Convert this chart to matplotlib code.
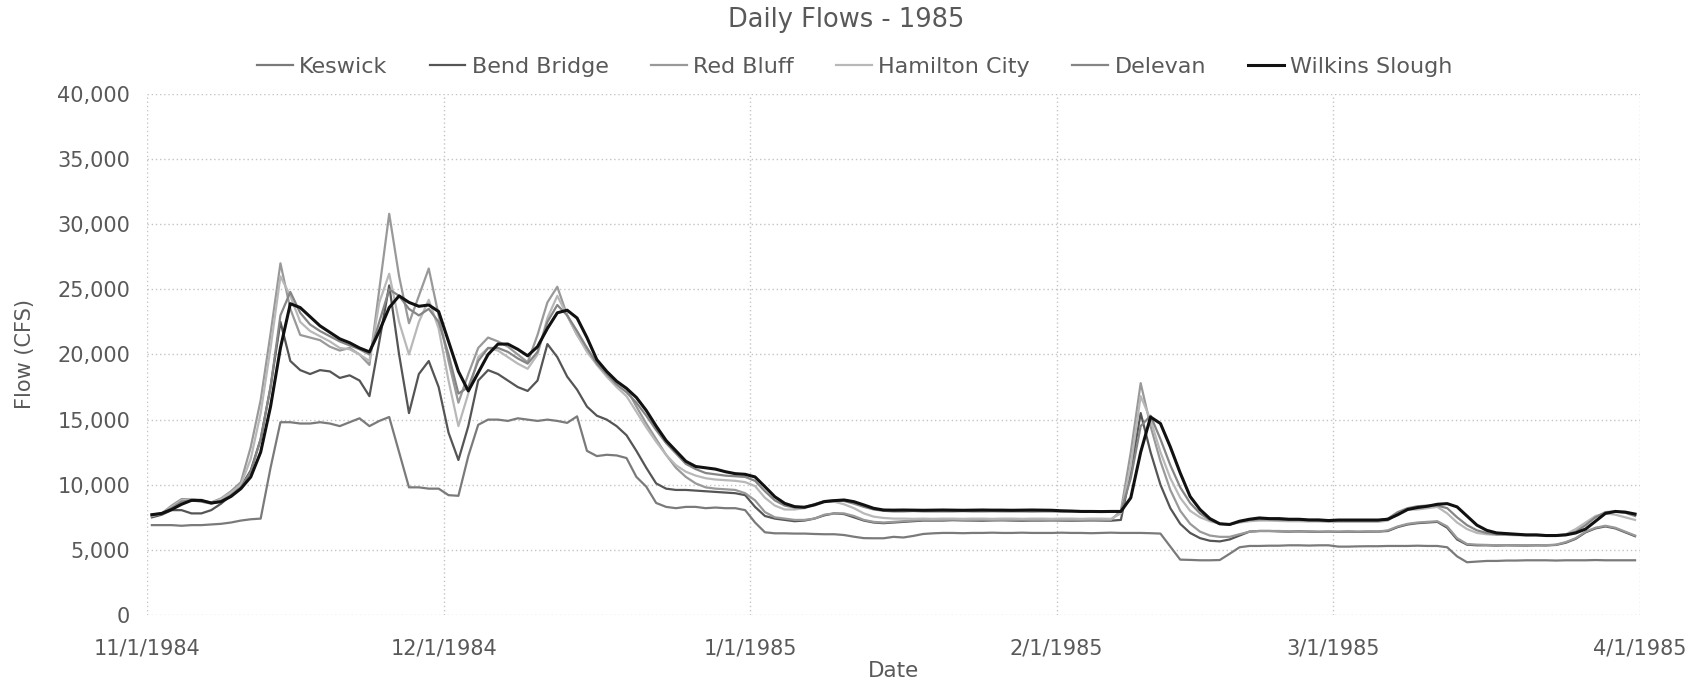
import matplotlib
matplotlib.use("Agg")
import matplotlib.pyplot as plt
import matplotlib.dates as mdates
from matplotlib.ticker import FuncFormatter, MultipleLocator
import pandas as pd

# daily mean flows, 11/1/1984 - 3/31/1985 (cfs)
keswick = [
    6900, 6900, 6900, 6850, 6900, 6900, 6950, 7000, 7100, 7250,
    7350, 7400, 11300, 14800, 14800, 14700, 14700, 14800, 14700, 14500,
    14800, 15100, 14500, 14900, 15200, 12500, 9800, 9800, 9700, 9700,
    9200, 9150, 12200, 14600, 15000, 15000, 14900, 15100, 15000, 14900,
    15000, 14900, 14750, 15250, 12600, 12200, 12300, 12250, 12050, 10600,
    9850, 8600, 8300, 8200, 8300, 8300, 8200, 8250, 8200, 8200,
    8050, 7100, 6350, 6270, 6270, 6250, 6250, 6220, 6200, 6200,
    6140, 6010, 5900, 5890, 5890, 6000, 5950, 6070, 6220, 6270,
    6300, 6300, 6280, 6300, 6300, 6320, 6300, 6300, 6320, 6300,
    6300, 6300, 6320, 6300, 6300, 6280, 6300, 6320, 6300, 6300,
    6300, 6280, 6250, 5250, 4250, 4230, 4200, 4200, 4220, 4700,
    5200, 5300, 5300, 5320, 5320, 5350, 5350, 5330, 5350, 5350,
    5250, 5250, 5270, 5280, 5280, 5300, 5300, 5300, 5320, 5300,
    5300, 5200, 4500, 4050, 4100, 4150, 4150, 4180, 4180, 4200,
    4200, 4200, 4180, 4200, 4200, 4200, 4220, 4200, 4200, 4200, 4200,
]
bend_bridge = [
    7500, 7700, 8050, 8050, 7800, 7800, 8050, 8550, 9200, 9850,
    11100, 13500, 17500, 22500, 19500, 18800, 18500, 18800, 18700, 18200,
    18400, 18000, 16800, 21000, 25300, 20000, 15500, 18500, 19500, 17500,
    14000, 11900, 14500, 18000, 18800, 18500, 18000, 17500, 17200, 18000,
    20800, 19800, 18300, 17300, 16000, 15300, 15000, 14500, 13800, 12600,
    11300, 10100, 9700, 9600, 9600, 9550, 9500, 9450, 9400, 9350,
    9200, 8300, 7600, 7400, 7300, 7200, 7250, 7400, 7650, 7800,
    7750, 7500, 7250, 7100, 7050, 7100, 7150, 7200, 7250, 7250,
    7250, 7280, 7260, 7250, 7240, 7260, 7270, 7250, 7240, 7250,
    7250, 7260, 7250, 7240, 7250, 7260, 7250, 7240, 7300, 11000,
    15500, 12500, 10000, 8200, 7000, 6300, 5900, 5700, 5650, 5800,
    6100, 6400, 6450, 6450, 6420, 6400, 6420, 6400, 6380, 6400,
    6380, 6400, 6380, 6400, 6400, 6450, 6750, 6950, 7050, 7100,
    7150, 6700, 5800, 5400, 5350, 5350, 5330, 5350, 5340, 5330,
    5350, 5340, 5380, 5550, 5850, 6350, 6650, 6800, 6650, 6350, 6050,
]
red_bluff = [
    7600, 7800, 8400, 8900, 8900, 8750, 8650, 8950, 9500, 10200,
    12900, 16500, 21600, 27000, 23500, 21500, 21300, 21100, 20600, 20300,
    20500, 20000, 19200, 25000, 30800, 26000, 22400, 24500, 26600, 23000,
    19500, 16300, 18500, 20500, 21300, 21000, 20600, 20000, 19400, 21500,
    24000, 25200, 23000, 21500, 20500, 19300, 18500, 17900, 17400, 16000,
    14700, 13500, 12300, 11300, 10600, 10100, 9800, 9700, 9650, 9600,
    9350, 8800, 7900, 7500, 7400, 7300, 7300, 7400, 7700, 7800,
    7800, 7600, 7300, 7150, 7100, 7150, 7200, 7250, 7300, 7300,
    7300, 7320, 7300, 7300, 7310, 7300, 7290, 7300, 7310, 7300,
    7300, 7300, 7300, 7290, 7300, 7310, 7300, 7300, 8000, 12500,
    17800, 14500, 11800, 9600, 8000, 7000, 6400, 6100, 6000, 6000,
    6200, 6400, 6450, 6450, 6450, 6420, 6400, 6420, 6400, 6400,
    6400, 6420, 6400, 6420, 6400, 6500, 6800, 7000, 7100, 7150,
    7200, 6800, 5900, 5450, 5400, 5380, 5350, 5360, 5350, 5350,
    5350, 5360, 5400, 5600, 5900, 6400, 6700, 6850, 6700, 6400, 6100,
]
hamilton_city = [
    7600, 7800, 8300, 8800, 8900, 8800, 8600, 8900, 9400, 10000,
    12000, 15500, 20500, 26000, 24500, 22500, 21800, 21400, 21000, 20500,
    20400, 20000, 19500, 24000, 26200, 22500, 20000, 22500, 24200, 22000,
    18000, 14500, 17000, 19800, 20500, 20300, 19800, 19300, 18900, 20000,
    22800, 24500, 23000, 21500, 20200, 19200, 18300, 17500, 16800, 15600,
    14400, 13300, 12300, 11500, 11000, 10700, 10500, 10400, 10350, 10300,
    10200, 9900, 9000, 8400, 8100, 8100, 8200, 8500, 8700, 8700,
    8500, 8200, 7800, 7550, 7450, 7400, 7400, 7380, 7400, 7380,
    7400, 7400, 7380, 7400, 7400, 7380, 7400, 7400, 7380, 7400,
    7400, 7380, 7400, 7400, 7380, 7400, 7400, 7380, 7800, 11500,
    16800, 15000, 12500, 10500, 9000, 8000, 7500, 7200, 7000, 6950,
    7100, 7200, 7250, 7250, 7220, 7200, 7200, 7180, 7180, 7150,
    7150, 7150, 7150, 7150, 7150, 7250, 7800, 8100, 8100, 8200,
    8300, 7800, 7100, 6600, 6300, 6200, 6150, 6150, 6120, 6100,
    6100, 6100, 6100, 6200, 6600, 7100, 7600, 7800, 7700, 7500, 7300,
]
delevan = [
    7700, 7800, 8200, 8700, 8800, 8700, 8550, 8750, 9200, 9800,
    11000, 13500, 17500, 23000, 24800, 23200, 22300, 21800, 21400, 21000,
    20700, 20400, 20000, 22500, 25000, 24500, 23500, 23000, 23500, 22500,
    20000, 17000, 17500, 19500, 20500, 20500, 20200, 19700, 19300, 20200,
    22500, 23800, 23000, 21800, 20500, 19300, 18500, 17700, 17100, 16300,
    15300, 14200, 13200, 12400, 11600, 11200, 10900, 10800, 10700, 10650,
    10600, 10300, 9500, 8800, 8400, 8250, 8300, 8500, 8750, 8800,
    8750, 8550, 8300, 8100, 8000, 7950, 7950, 7980, 7950, 7950,
    7950, 7950, 7970, 7950, 7950, 7960, 7950, 7950, 7950, 7940,
    7950, 7950, 7940, 7950, 7950, 7950, 7940, 7950, 7950, 10500,
    14500, 15300, 13500, 11500, 9800, 8600, 7800, 7300, 7000, 6950,
    7150, 7300, 7350, 7350, 7320, 7300, 7300, 7280, 7250, 7250,
    7250, 7250, 7250, 7250, 7250, 7400, 7900, 8200, 8350, 8400,
    8400, 8200, 7500, 6900, 6500, 6300, 6200, 6180, 6150, 6150,
    6150, 6130, 6130, 6150, 6400, 6900, 7500, 7900, 7950, 7850, 7600,
]
wilkins_slough = [
    7700, 7800, 8100, 8500, 8800, 8800, 8600, 8700, 9100, 9700,
    10600, 12500, 16000, 20500, 23900, 23600, 22900, 22200, 21700, 21200,
    20900, 20500, 20200, 21800, 23600, 24500, 24000, 23700, 23800, 23300,
    21000, 18700, 17200, 18600, 20000, 20800, 20800, 20400, 19900, 20600,
    22000, 23200, 23400, 22800, 21300, 19600, 18700, 17950, 17400, 16700,
    15700, 14500, 13400, 12600, 11800, 11400, 11300, 11200, 11000, 10850,
    10800, 10600, 9850, 9080, 8570, 8320, 8270, 8450, 8700, 8780,
    8830, 8700, 8450, 8190, 8060, 8050, 8060, 8050, 8040, 8050,
    8060, 8050, 8040, 8050, 8060, 8050, 8050, 8040, 8050, 8060,
    8050, 8040, 8000, 7980, 7950, 7950, 7940, 7950, 7950, 9000,
    12500, 15200, 14700, 12900, 10900, 9100, 8100, 7400, 7000, 6950,
    7200, 7350, 7450, 7400, 7400, 7350, 7350, 7300, 7300, 7250,
    7290, 7290, 7290, 7290, 7290, 7350, 7700, 8100, 8250, 8350,
    8500, 8550, 8300, 7600, 6900, 6500, 6300, 6250, 6200, 6150,
    6150, 6100, 6100, 6150, 6300, 6600, 7200, 7800, 7950, 7900, 7750,
]

stations = ["Keswick", "Bend Bridge", "Red Bluff", "Hamilton City", "Delevan", "Wilkins Slough"]
flows = [keswick, bend_bridge, red_bluff, hamilton_city, delevan, wilkins_slough]
colors = ["#7a7a7a", "#555555", "#999999", "#b8b8b8", "#858585", "#111111"]
widths = [1.6, 1.6, 1.6, 1.6, 1.6, 2.2]

# daily means plotted at midday
dates = pd.date_range("1984-11-01", periods=len(keswick), freq="D") + pd.Timedelta(hours=12)

plt.rcParams["font.family"] = ["DejaVu Sans"]
txt = "#595959"

fig = plt.figure(figsize=(16.93, 6.90), dpi=100)
ax = fig.add_axes([0.0868, 0.1087, 0.8819, 0.7551])

for name, q, c, lw in zip(stations, flows, colors, widths):
    ax.plot(dates, q, color=c, lw=lw, label=name)

ax.set_xlim(pd.Timestamp("1984-11-01"), pd.Timestamp("1985-04-01"))
ax.set_ylim(0, 40000)
ax.yaxis.set_major_locator(MultipleLocator(5000))
ax.yaxis.set_major_formatter(FuncFormatter(lambda v, p: f"{v:,.0f}"))
ax.xaxis.set_major_locator(mdates.MonthLocator())
ax.xaxis.set_major_formatter(FuncFormatter(
    lambda v, p: f"{mdates.num2date(v).month}/{mdates.num2date(v).day}/{mdates.num2date(v).year}"))

ax.grid(True, color="#c4c4c4", linestyle=(0, (1, 2)), linewidth=1.0)
ax.set_axisbelow(True)
for s in ax.spines.values():
    s.set_visible(False)
ax.tick_params(length=0, colors=txt, labelsize=15)
ax.tick_params(axis="x", pad=17)
ax.tick_params(axis="y", pad=12)

ax.set_xlabel("Date", color=txt, fontsize=15.5, labelpad=2)
ax.set_ylabel("Flow (CFS)", color=txt, fontsize=15, labelpad=16)

fig.suptitle("Daily Flows - 1985", color=txt, fontsize=18.5, y=0.99)
leg = fig.legend(loc="center", bbox_to_anchor=(0.505, 0.903), ncol=6, frameon=False,
                 fontsize=16, handlelength=1.6, handletextpad=0.3, columnspacing=1.9)
for t in leg.get_texts():
    t.set_color(txt)

fig.savefig("out.png", dpi=100)
